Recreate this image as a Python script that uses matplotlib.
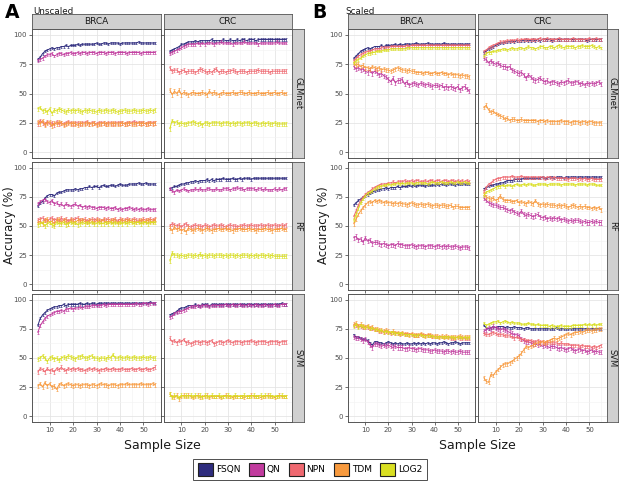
import numpy as np
import matplotlib
matplotlib.use("Agg")
import matplotlib.pyplot as plt
from matplotlib.patches import Patch, Rectangle
from matplotlib.ticker import MultipleLocator

# ---------------- data ----------------
SAMPLE_SIZE = list(range(5, 56))
METHODS = ["FSQN", "QN", "NPN", "TDM", "LOG2"]
COLORS = ["#2E2C7E", "#C13B9E", "#EF6870", "#F89A3E", "#D9DF22"]
DATASETS = ["BRCA", "CRC"]
CLASSIFIERS = ["GLMnet", "RF", "SVM"]
ERR_A = [0.9, 1.2, 1.6, 1.6, 1.6]
ERR_B = [0.9, 1.8, 1.2, 1.6, 1.0]

# ---- A: Unscaled ----
A_BRCA_GLM_FSQN = [79,81,84,86,87,88,89,88,89,89, 90,90,91,90,91,91,91,92,91,92, 92,92,92,92,92,93,92,92,93,93, 92,93,93,93,93,92,93,93,93,93, 93,93,93,94,93,93,93,93,93,93, 93]
A_BRCA_GLM_QN = [78,79,80,82,83,83,84,82,83,84, 84,83,84,84,85,84,84,85,84,85, 85,84,85,85,85,84,85,85,85,84, 85,85,85,84,85,85,85,85,84,85, 85,85,85,85,84,85,85,85,85,85, 85]
A_BRCA_GLM_NPN = [24,27,25,24,26,24,25,23,26,24, 25,24,25,26,25,24,25,25,24,25, 25,26,24,25,25,24,25,25,25,24, 25,25,24,25,25,25,25,24,25,25, 25,26,25,25,25,25,24,25,25,25, 25]
A_BRCA_GLM_TDM = [26,24,27,23,25,26,22,25,24,26, 25,23,24,25,24,25,24,23,25,24, 24,25,24,24,25,23,24,24,25,24, 24,24,25,24,24,24,25,24,24,25, 24,24,24,25,24,25,24,24,25,24, 25]
A_BRCA_GLM_LOG2 = [37,38,35,36,34,37,33,36,35,37, 36,35,34,36,35,36,35,36,35,34, 36,35,36,35,35,34,36,35,35,36, 35,35,36,35,34,35,35,36,35,35, 35,36,35,35,35,36,35,35,36,35, 36]

A_CRC_GLM_FSQN = [86,87,88,89,90,92,92,93,94,94, 94,95,94,95,95,95,95,95,96,95, 95,95,95,96,95,95,96,95,95,96, 95,96,96,95,96,96,96,95,96,96, 96,96,96,96,96,96,96,96,96,96, 96]
A_CRC_GLM_QN = [84,85,86,87,88,89,90,91,92,92, 92,92,93,92,93,92,93,93,93,92, 93,93,94,93,93,93,93,92,93,93, 93,93,94,93,93,93,93,93,92,93, 93,93,93,93,93,93,94,93,93,93, 93]
A_CRC_GLM_NPN = [72,69,70,70,68,69,70,68,69,69, 69,68,69,71,70,69,68,69,68,70, 71,68,69,69,68,69,69,70,69,68, 69,69,69,68,69,69,69,69,70,69, 69,69,69,68,69,69,69,69,69,69, 69]
A_CRC_GLM_TDM = [53,49,52,50,53,49,51,50,49,50, 51,50,50,50,51,50,49,52,50,51, 50,49,50,51,50,50,50,51,50,50, 51,51,50,50,51,50,50,50,51,50, 50,50,51,50,50,51,50,50,51,50, 50]
A_CRC_GLM_LOG2 = [20,27,25,26,24,25,24,24,25,25, 26,25,24,25,23,25,25,24,25,25, 25,25,24,25,25,25,24,25,24,25, 25,24,25,25,25,24,25,25,24,24, 25,24,25,24,24,25,24,24,24,24, 24]

A_BRCA_RF_FSQN = [67,70,71,74,76,77,77,76,78,79, 79,80,81,81,81,81,82,81,82,82, 83,83,84,83,84,84,83,84,85,84, 84,85,85,84,85,86,85,85,85,86, 86,86,86,87,86,86,87,86,86,86, 86]
A_BRCA_RF_QN = [69,71,72,73,71,70,72,69,70,68, 69,67,69,68,67,68,69,67,68,66, 67,66,67,66,66,65,66,66,66,65, 66,65,65,66,64,65,64,65,65,66, 65,64,65,64,65,64,64,65,64,64, 64]
A_BRCA_RF_NPN = [55,56,57,55,54,56,57,55,56,54, 57,55,56,54,56,55,56,57,55,55, 56,54,55,56,55,56,55,54,56,55, 56,55,55,56,54,56,55,55,56,55, 55,56,55,55,54,56,55,55,56,55, 56]
A_BRCA_RF_TDM = [53,54,52,55,56,53,54,52,55,56, 53,55,54,52,55,54,53,55,54,55, 54,53,55,54,53,55,54,54,55,53, 54,54,55,54,53,54,55,54,54,55, 54,54,53,54,55,54,54,55,54,54, 55]
A_BRCA_RF_LOG2 = [51,52,53,50,52,53,51,50,53,52, 52,53,51,52,53,52,53,51,52,53, 52,53,52,53,52,52,53,52,52,53, 52,53,52,53,52,53,52,53,52,53, 53,52,53,53,52,53,53,52,53,53, 53]

A_CRC_RF_FSQN = [82,83,84,84,85,86,86,87,87,88, 88,89,88,89,89,89,90,89,90,89, 90,90,90,91,90,90,90,91,90,90, 91,90,91,91,91,90,91,91,91,91, 91,91,91,91,91,91,91,91,91,91, 91]
A_CRC_RF_QN = [82,80,79,81,80,81,82,81,80,81, 81,82,81,82,81,81,82,82,81,81, 82,81,81,82,82,82,81,82,82,83, 82,82,81,82,82,82,82,81,82,82, 81,82,81,81,81,82,81,82,81,82, 82]
A_CRC_RF_NPN = [50,52,51,50,51,49,51,52,50,49, 50,51,50,50,49,51,50,49,50,51, 50,50,51,50,49,50,51,50,50,49, 50,50,51,50,50,51,50,50,50,51, 50,50,51,50,50,51,50,50,51,50, 51]
A_CRC_RF_TDM = [48,46,49,47,48,46,47,45,48,47, 46,47,48,47,46,47,48,47,46,47, 47,48,47,47,48,47,47,46,47,47, 48,47,47,47,48,47,47,46,47,47, 47,48,47,47,46,47,47,47,48,47, 47]
A_CRC_RF_LOG2 = [20,27,25,25,24,25,24,24,25,25, 24,25,24,26,24,25,24,25,25,24, 25,25,25,24,25,24,25,25,24,25, 24,25,25,25,24,25,24,25,24,25, 25,24,25,24,25,24,24,24,24,24, 24]

A_BRCA_SVM_FSQN = [78,84,87,89,91,92,93,94,94,95, 95,96,95,96,96,96,96,96,97,96, 96,97,96,97,97,96,97,97,97,97, 97,97,97,97,97,97,97,97,97,97, 97,97,97,97,97,97,97,97,98,97, 97]
A_BRCA_SVM_QN = [72,78,81,84,86,87,88,89,90,90, 91,90,92,92,93,92,93,93,94,93, 94,94,94,95,95,95,95,95,96,95, 96,96,96,96,96,96,96,96,96,96, 96,96,97,96,96,97,97,96,97,97, 97]
A_BRCA_SVM_NPN = [38,41,40,38,41,39,40,38,41,40, 42,40,39,41,40,41,40,41,40,40, 39,40,41,40,41,40,39,40,40,41, 40,40,41,40,40,40,41,40,40,40, 41,40,40,41,40,40,41,40,40,41, 42]
A_BRCA_SVM_TDM = [26,28,25,29,26,28,25,26,23,27, 28,26,27,28,27,26,27,27,26,27, 27,27,26,27,27,26,27,28,27,27, 26,27,27,27,26,27,27,27,28,27, 27,27,27,27,28,27,27,27,27,28, 27]
A_BRCA_SVM_LOG2 = [49,50,52,50,47,50,51,49,50,48, 50,51,50,52,51,50,49,51,51,52, 50,50,51,52,50,50,49,50,50,49, 51,50,53,50,50,51,50,50,51,50, 50,51,50,50,50,51,50,50,51,50, 50]

A_CRC_SVM_FSQN = [87,88,89,90,92,93,93,94,95,95, 95,96,95,95,96,96,96,95,96,96, 96,96,96,96,96,96,96,96,96,96, 96,96,96,96,96,96,96,96,96,96, 96,96,96,96,96,96,96,96,97,96, 96]
A_CRC_SVM_QN = [85,86,88,89,90,90,91,92,93,94, 94,94,95,94,95,95,95,94,95,95, 95,95,95,95,96,95,95,96,95,95, 96,95,95,95,96,95,95,96,95,95, 95,96,95,95,95,96,95,95,96,96, 96]
A_CRC_SVM_NPN = [67,64,65,63,65,64,66,63,64,62, 63,64,64,63,64,64,63,64,65,62, 63,64,64,63,64,65,64,63,64,64, 64,63,64,64,64,65,64,63,64,64, 64,64,63,64,64,64,64,63,64,64, 64]
A_CRC_SVM_TDM = [19,17,16,18,15,17,18,17,18,17, 16,17,18,16,17,17,18,16,17,17, 17,17,16,17,18,17,17,16,17,17, 17,17,16,17,17,18,17,17,17,16, 17,17,18,17,17,16,17,18,17,17, 17]
A_CRC_SVM_LOG2 = [19,16,18,17,16,18,17,18,17,18, 17,18,17,18,16,18,17,17,18,17, 17,18,17,17,17,18,17,17,18,17, 17,17,18,17,17,17,18,17,17,18, 17,18,17,18,17,17,17,17,18,17, 17]

# ---- B: Scaled ----
B_BRCA_GLM_FSQN = [80,82,84,86,87,88,89,88,89,90, 90,90,91,90,91,91,91,91,92,91, 92,91,92,92,92,92,92,93,92,92, 92,92,93,92,92,92,92,92,92,93, 92,92,92,92,92,92,92,92,92,92, 92]
B_BRCA_GLM_QN = [73,71,72,70,71,69,68,70,67,69, 68,66,67,65,64,62,60,63,59,61, 61,62,58,60,57,58,59,58,57,59, 58,57,58,57,56,57,57,56,57,55, 56,55,56,55,54,56,53,55,56,54, 52]
B_BRCA_GLM_NPN = [78,80,82,83,84,85,86,86,87,88, 88,88,89,89,89,89,90,90,90,90, 90,90,90,91,90,91,91,91,91,91, 91,91,91,91,91,91,91,91,91,91, 91,91,91,91,91,91,91,91,91,91, 91]
B_BRCA_GLM_TDM = [76,74,75,73,74,72,72,71,73,72, 71,72,70,71,70,70,69,70,71,72, 71,70,70,69,70,69,69,68,68,68, 67,68,68,67,67,68,67,67,68,67, 67,66,67,66,66,66,65,66,65,65, 64]
B_BRCA_GLM_LOG2 = [76,78,79,80,82,83,84,84,85,85, 86,86,86,87,87,87,88,88,88,88, 88,88,88,89,89,89,89,89,89,89, 89,89,89,89,89,89,89,89,89,89, 89,89,89,89,89,89,89,89,89,89, 89]

B_CRC_GLM_FSQN = [85,86,88,89,90,91,92,93,93,94, 94,94,95,94,95,95,95,95,96,95, 95,96,95,96,95,96,96,96,96,95, 96,96,96,96,96,96,96,96,96,96, 96,96,96,96,95,96,96,96,96,96, 96]
B_CRC_GLM_QN = [80,79,76,78,76,75,76,74,73,73, 72,73,70,69,68,67,68,66,63,66, 64,62,61,62,63,61,60,61,59,60, 60,59,58,60,59,60,61,59,59,60, 60,58,59,57,59,58,59,58,59,60, 58]
B_CRC_GLM_NPN = [86,87,89,90,91,92,93,94,94,94, 95,95,95,95,96,95,96,96,96,96, 96,96,96,96,97,96,96,97,96,96, 96,96,97,96,96,96,96,96,97,96, 96,96,96,96,96,97,96,96,97,96, 96]
B_CRC_GLM_TDM = [38,40,36,34,35,33,32,31,30,28, 29,27,28,28,27,27,28,27,27,27, 27,27,27,26,27,27,26,27,26,26, 26,26,26,27,26,26,26,25,26,26, 26,25,26,26,25,26,26,25,25,25, 25]
B_CRC_GLM_LOG2 = [82,84,85,85,86,86,87,87,88,88, 87,88,89,88,88,89,89,88,89,90, 89,89,88,89,90,90,89,89,90,90, 89,90,91,90,89,90,90,90,90,89, 90,90,91,90,90,90,91,90,89,90, 89]

B_BRCA_RF_FSQN = [68,70,72,73,75,76,77,78,79,80, 81,81,82,82,83,82,83,83,83,84, 83,84,84,84,85,84,85,84,85,85, 85,84,85,85,85,85,86,85,86,86, 85,86,86,86,85,86,86,86,86,86, 86]
B_BRCA_RF_QN = [40,41,38,39,36,40,37,38,35,36, 36,35,34,35,34,33,34,34,33,35, 34,34,33,33,33,34,33,32,33,33, 33,32,33,33,33,32,33,33,32,33, 32,33,32,32,33,32,31,32,32,32, 31]
B_BRCA_RF_NPN = [58,63,68,72,75,77,79,80,82,83, 84,85,86,86,86,87,87,88,87,88, 88,88,89,88,88,89,88,89,89,88, 88,89,88,89,89,88,89,89,88,89, 89,88,89,89,88,89,88,89,88,89, 88]
B_BRCA_RF_TDM = [52,56,60,63,66,68,70,71,70,72, 71,72,71,70,71,70,70,69,70,69, 70,69,69,68,69,70,69,68,68,69, 68,68,69,68,67,68,68,67,68,68, 67,67,68,66,67,67,66,66,66,66, 66]
B_BRCA_RF_LOG2 = [55,60,65,70,73,76,78,79,80,82, 83,84,84,85,85,86,85,86,86,87, 86,87,86,87,87,87,86,87,87,87, 87,87,86,87,88,87,87,87,88,87, 87,87,88,87,87,88,87,87,88,87, 87]

B_CRC_RF_FSQN = [82,83,84,85,85,86,86,87,87,88, 89,89,89,90,90,90,90,91,91,91, 91,91,91,91,91,92,91,91,92,92, 91,92,92,92,91,92,92,92,92,92, 92,92,92,92,92,92,92,92,92,92, 92]
B_CRC_RF_QN = [74,72,70,69,68,68,67,66,66,65, 64,63,64,62,61,60,63,60,59,60, 59,58,59,60,58,57,58,56,57,56, 57,56,57,55,56,55,54,55,54,55, 55,54,53,54,53,53,54,53,54,53, 53]
B_CRC_RF_NPN = [80,83,86,87,89,90,91,91,92,92, 92,92,93,92,92,92,93,92,92,92, 92,92,92,92,92,92,91,92,92,91, 92,91,91,91,91,91,90,91,91,91, 90,91,90,91,90,90,91,90,90,90, 90]
B_CRC_RF_TDM = [78,75,74,73,74,72,73,76,73,72, 72,72,71,71,72,70,71,70,69,71, 70,69,72,69,68,69,68,69,68,68, 68,67,68,67,68,67,66,67,68,67, 66,67,66,67,66,66,65,66,65,66, 64]
B_CRC_RF_LOG2 = [76,79,80,81,82,83,84,84,85,84, 85,85,84,85,86,85,85,86,85,86, 86,85,85,86,86,86,86,85,86,86, 86,86,86,85,86,86,86,86,86,85, 86,86,86,86,85,86,86,86,85,85, 85]

B_BRCA_SVM_FSQN = [70,68,68,67,66,66,65,63,61,64, 64,63,63,62,63,64,63,62,63,62, 63,62,62,63,62,62,63,62,63,62, 63,62,63,62,63,63,62,63,63,64, 63,62,63,63,64,63,62,63,63,63, 63]
B_BRCA_SVM_QN = [68,67,67,66,65,66,64,61,59,62, 62,61,60,61,60,61,60,59,60,59, 59,59,58,58,59,58,58,57,58,58, 57,57,57,56,56,57,56,56,56,55, 56,56,55,56,55,55,56,55,55,55, 55]
B_BRCA_SVM_NPN = [78,78,77,77,76,76,76,75,75,74, 74,73,73,72,73,72,71,72,71,71, 70,71,70,70,70,70,69,69,69,70, 69,69,69,69,68,68,68,68,68,68, 68,68,67,67,67,68,67,67,67,67, 67]
B_BRCA_SVM_TDM = [79,80,78,79,78,77,78,76,77,75, 75,74,74,73,74,73,72,73,72,72, 71,72,71,71,70,71,70,70,70,71, 70,69,70,70,69,69,69,68,69,68, 69,68,68,68,68,68,69,68,68,68, 68]
B_BRCA_SVM_LOG2 = [77,79,76,78,77,76,77,75,76,74, 75,73,74,72,73,72,72,72,71,71, 71,71,70,70,70,70,70,69,70,70, 69,69,69,69,69,68,68,68,68,68, 68,68,68,68,67,68,68,67,68,67, 68]

B_CRC_SVM_FSQN = [78,76,75,76,77,76,77,77,77,76, 77,76,76,77,76,76,76,75,76,76, 75,75,75,75,75,75,75,75,75,75, 75,76,75,75,75,75,75,75,75,75, 75,75,75,75,75,75,75,75,75,75, 75]
B_CRC_SVM_QN = [73,74,76,75,77,76,75,74,75,74, 73,72,71,70,70,69,66,65,64,64, 63,62,62,61,62,60,61,60,59,60, 60,59,58,59,58,57,58,59,57,56, 57,58,56,57,55,56,57,55,56,55, 55]
B_CRC_SVM_NPN = [71,70,70,71,72,71,70,70,70,69, 69,69,68,67,68,67,66,66,65,65, 65,64,64,65,64,64,63,64,63,63, 63,63,62,63,62,62,62,61,61,61, 61,60,61,60,60,60,59,60,59,60, 61]
B_CRC_SVM_TDM = [33,30,29,36,35,38,40,42,44,45, 45,46,47,49,50,52,54,57,60,59, 60,61,62,63,63,64,63,64,65,66, 67,66,67,68,69,70,71,70,71,72, 72,73,72,73,74,74,73,74,74,75, 75]
B_CRC_SVM_LOG2 = [80,78,79,80,81,81,82,80,81,82, 81,80,81,80,80,80,79,79,79,80, 79,79,78,79,78,78,78,78,77,78, 77,77,77,78,77,77,77,77,78,78, 78,78,78,79,78,79,78,79,78,79, 79]

SCALINGS = {"A": ("Unscaled", ERR_A), "B": ("Scaled", ERR_B)}
CLS_KEY = {"GLMnet": "GLM", "RF": "RF", "SVM": "SVM"}

def series(panel, ds, cl, m):
    return globals()[f"{panel}_{ds}_{CLS_KEY[cl]}_{m}"]

# ---------------- figure ----------------
W, H = 619, 484
fig = plt.figure(figsize=(W / 100, H / 100), dpi=100)
fig.patch.set_facecolor("white")

def box(l, t, r, b):
    return [l / W, 1 - b / H, (r - l) / W, (b - t) / H]

ROW_Y = [(29, 158), (162, 290), (294, 422)]
COL_X = {"A": [(32, 161), (164, 292)], "B": [(348, 475), (478, 607)]}
RSTRIP = {"A": (292, 304), "B": (607, 618)}
STRIP_TOP = 14

tick_col = "#4D4D4D"
border_col = "#555555"

for panel in ["A", "B"]:
    title, errs = SCALINGS[panel]
    for ci, ds in enumerate(DATASETS):
        l, r = COL_X[panel][ci]
        # column strip
        sax = fig.add_axes(box(l, STRIP_TOP, r, ROW_Y[0][0]))
        sax.set_facecolor("#D0D0D0")
        sax.set_xticks([]); sax.set_yticks([])
        for s in sax.spines.values():
            s.set_color(border_col); s.set_linewidth(0.6)
        sax.text(0.5, 0.5, ds, ha="center", va="center", fontsize=6.5, color="#1A1A1A",
                 transform=sax.transAxes)
        for ri, cl in enumerate(CLASSIFIERS):
            t, b = ROW_Y[ri]
            ax = fig.add_axes(box(l, t, r, b))
            ax.set_xlim(2.5, 57.5)
            ax.set_ylim(-5, 105)
            ax.xaxis.set_major_locator(MultipleLocator(10))
            ax.xaxis.set_minor_locator(MultipleLocator(5))
            ax.yaxis.set_major_locator(MultipleLocator(25))
            ax.yaxis.set_minor_locator(MultipleLocator(12.5))
            ax.grid(which="major", color="#E3E3E3", linewidth=0.55)
            ax.grid(which="minor", color="#F2F2F2", linewidth=0.4)
            ax.set_axisbelow(True)
            for s in ax.spines.values():
                s.set_color(border_col); s.set_linewidth(0.7)
            ax.tick_params(which="major", length=2, width=0.5, color="#333333",
                           labelsize=5, labelcolor=tick_col, pad=1.5)
            ax.tick_params(which="minor", length=0)
            if ri != 2:
                ax.tick_params(labelbottom=False)
            else:
                ax.set_xticks([10, 20, 30, 40, 50])
            if ci != 0:
                ax.tick_params(labelleft=False)
            ax.set_yticks([0, 25, 50, 75, 100])
            for mi, m in enumerate(METHODS):
                y = np.array(series(panel, ds, cl, m), dtype=float)
                x = np.array(SAMPLE_SIZE[:len(y)])
                ax.errorbar(x, y, yerr=errs[mi], color=COLORS[mi], linewidth=0.7,
                            elinewidth=0.45, capsize=0.9, capthick=0.45, zorder=3 + mi)
            if ci == 1:
                rax = fig.add_axes(box(RSTRIP[panel][0], t, RSTRIP[panel][1], b))
                rax.set_facecolor("#D0D0D0")
                rax.set_xticks([]); rax.set_yticks([])
                for s in rax.spines.values():
                    s.set_color(border_col); s.set_linewidth(0.6)
                rax.text(0.5, 0.5, cl, ha="center", va="center", rotation=-90,
                         fontsize=6, color="#1A1A1A", transform=rax.transAxes)
    # labels
    lx = 5 if panel == "A" else 312
    fig.text(lx / W, 1 - 12 / H, panel, fontsize=13.5, fontweight="bold", ha="left", va="center")
    tx = 33 if panel == "A" else 345
    fig.text(tx / W, 1 - 11 / H, title, fontsize=6.3, ha="left", va="center", color="#1A1A1A")
    yl = 10 if panel == "A" else 323
    fig.text(yl / W, 1 - 225 / H, "Accuracy (%)", rotation=90, fontsize=8.5,
             ha="center", va="center", color="#1A1A1A")
    cx = (COL_X[panel][0][0] + COL_X[panel][1][1]) / 2
    fig.text(cx / W, 1 - 445 / H, "Sample Size", fontsize=9, ha="center", va="center",
             color="#1A1A1A")

handles = [Patch(facecolor=c, edgecolor="#222222", linewidth=0.8, label=m)
           for m, c in zip(METHODS, COLORS)]
leg = fig.legend(handles=handles, loc="center", bbox_to_anchor=(310 / W, 1 - 469.5 / H),
                 ncol=5, fontsize=6.5, frameon=True, fancybox=False,
                 handlelength=1.7, handleheight=1.7, handletextpad=0.3, columnspacing=0.9,
                 borderpad=0.5)
leg.get_frame().set_edgecolor("#222222")
leg.get_frame().set_linewidth(0.7)

fig.savefig("out.png", dpi=100, facecolor="white")
